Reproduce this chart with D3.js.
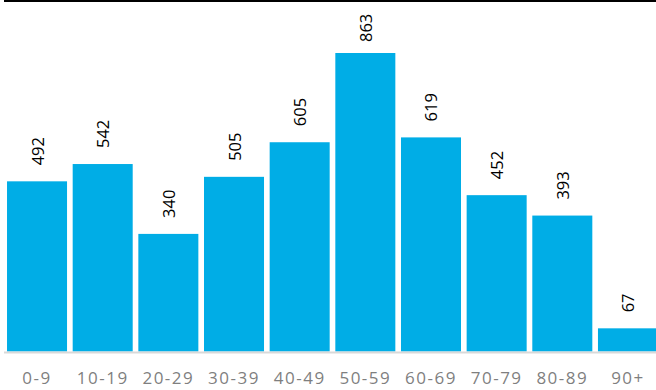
<!DOCTYPE html>
<html><head><meta charset="utf-8">
<script src="https://cdn.jsdelivr.net/npm/d3@7"></script>
<style>body{margin:0;background:#fff}svg{display:block}</style>
</head><body>
<svg id="c" width="656" height="390"></svg>
<script>
const categories = ["0-9","10-19","20-29","30-39","40-49","50-59","60-69","70-79","80-89","90+"];
const values = [492,542,340,505,605,863,619,452,393,67];

const svg = d3.select("#c");
const W = 656, H = 390;
const baseY = 351.5;
const x = d3.scaleBand().domain(categories).range([4, 661]).paddingInner(0.086).paddingOuter(0.046);
const y = d3.scaleLinear().domain([0, 863]).range([baseY, 53]);

// top border line
svg.append("line").attr("x1",4).attr("x2",W).attr("y1",1).attr("y2",1)
  .attr("stroke","#000").attr("stroke-width",2);

svg.selectAll("rect.bar").data(values).join("rect").attr("class","bar")
  .attr("x",(d,i)=>x(categories[i]))
  .attr("width",x.bandwidth())
  .attr("y",d=>y(d))
  .attr("height",d=>baseY-y(d))
  .attr("fill","#00ADE6");

// axis line
svg.append("line").attr("x1",4).attr("x2",W).attr("y1",352.5).attr("y2",352.5)
  .attr("stroke","#D9D9D9").attr("stroke-width",2);

// value labels rotated
svg.selectAll("text.val").data(values).join("text").attr("class","val")
  .attr("transform",(d,i)=>`translate(${x(categories[i])+x.bandwidth()/2+6.5},${Math.max(y(d)-16,42)}) rotate(-90)`)
  .attr("text-anchor","start")
  .attr("font-family","Open Sans, sans-serif")
  .attr("font-size",16.5)
  .attr("fill","#000")
  .text(d=>d);

// category labels
const xa = svg.append("g").attr("transform",`translate(0,${baseY})`)
  .call(d3.axisBottom(x).tickSize(0).tickPadding(0));
xa.select(".domain").remove();
xa.selectAll("text")
  .attr("font-family","Open Sans, sans-serif")
  .attr("font-size",17)
  .attr("fill","#7F7F7F")
  .attr("letter-spacing","1.5px")
  .attr("y",32.5)
  .attr("dy",null);
</script>
</body></html>
